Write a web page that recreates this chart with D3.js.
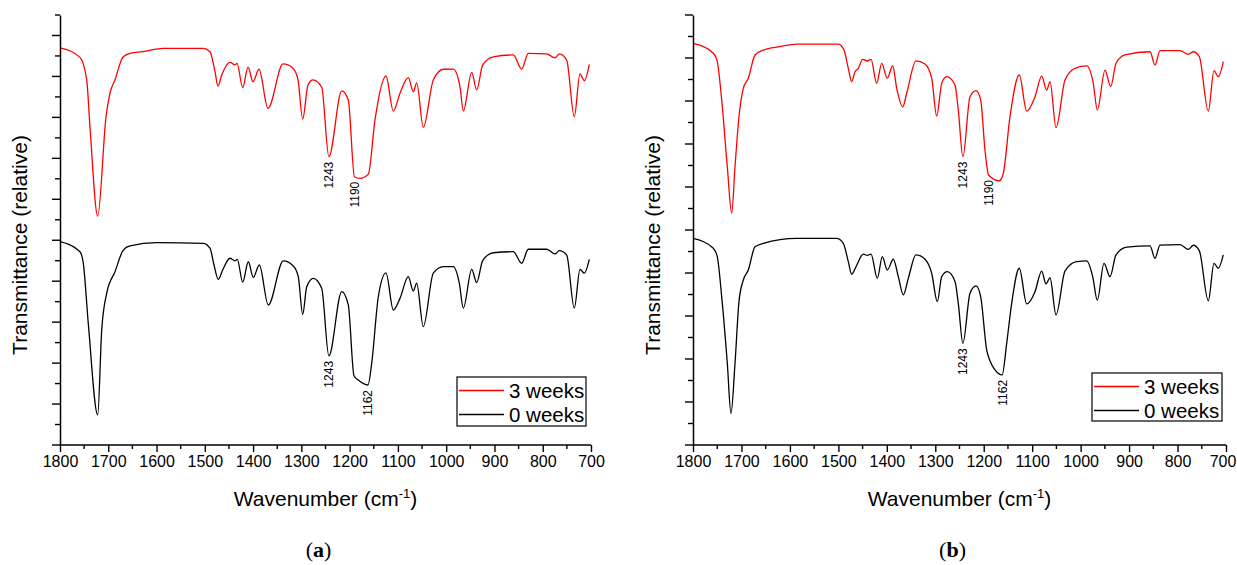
<!DOCTYPE html>
<html>
<head>
<meta charset="utf-8">
<script src="https://cdn.jsdelivr.net/npm/d3@7"></script>
<style>
  html, body { margin: 0; padding: 0; background: #fff; }
  svg { display: block; }
  text { font-family: "Liberation Sans", Arial, sans-serif; fill: #000; }
</style>
</head>
<body>
<svg id="chart" width="1237" height="565"></svg>
<script>
// FTIR spectra, wavenumber (cm-1) vs relative transmittance (arbitrary offset units)
const seriesNames = ["3 weeks", "0 weeks"];
const seriesColors = ["#ff0000", "#000000"];
const xTickValues = [1800, 1700, 1600, 1500, 1400, 1300, 1200, 1100, 1000, 900, 800, 700];
const panelLabels = ["a", "b"];

// Panel (a)
const a3weeks = [
  [1800,19.40],[1758.6,18.93],[1744.7,17.83],[1737.9,15.53],[1721.9,11.18],[1704.7,16.02],
  [1696.4,17.19],[1686.1,17.83],[1669.5,18.95],[1655,19.13],[1628.1,19.21],[1586.7,19.37],
  [1503.8,19.37],[1489.3,19.21],[1478.9,18.23],[1472.7,17.53],[1465,18.07],[1447.8,18.69],
  [1437.5,18.56],[1433.3,18.64],[1421.5,17.45],[1410.5,18.45],[1400.2,17.74],[1387.8,18.35],
  [1369.1,16.44],[1338,18.61],[1317.3,18.40],[1307,17.83],[1297.2,15.92],[1286.3,17.58],
  [1275.9,17.83],[1257.9,17.47],[1243,14.08],[1216.4,17.29],[1202.8,16.85],[1190,13.10],
  [1178.5,13.02],[1161.3,13.23],[1147.5,15.87],[1124.7,18.02],[1109.5,16.31],[1095.7,17.18],
  [1078.5,17.94],[1068.1,17.25],[1061.1,17.69],[1047.4,15.52],[1026.7,17.83],[1006,18.35],
  [985.3,18.36],[971.4,17.50],[964.5,16.31],[947.1,18.20],[936.8,17.34],[924.4,18.56],
  [902.4,18.96],[861,19.05],[843.6,18.36],[829.9,19.13],[791.8,19.10],[774.6,18.91],
  [765.7,19.10],[750.4,18.80],[734.6,16.03],[722.8,18.12],[713.9,17.79],[703.5,18.59]
];
const a0weeks = [
  [1800,9.93],[1758.6,9.44],[1751.7,8.87],[1741.4,5.94],[1721.9,1.47],[1713.6,5.62],
  [1703.3,7.41],[1686.1,8.46],[1668.9,9.52],[1655,9.72],[1599.7,9.88],[1503.1,9.85],
  [1489.3,9.61],[1481,8.79],[1472.1,8.09],[1463,8.55],[1447.8,9.12],[1437.5,8.99],
  [1432.7,9.07],[1421.5,7.95],[1409.9,8.95],[1399.6,8.19],[1387.1,8.79],[1368.5,6.84],
  [1337.4,8.99],[1316.7,8.74],[1306.4,8.22],[1297.2,6.38],[1288.9,7.73],[1275.3,8.14],
  [1257.9,7.65],[1243,4.35],[1216.4,7.49],[1202.8,6.84],[1191,3.38],[1182.1,3.17],
  [1162,2.93],[1154.3,3.99],[1140.6,7.24],[1124.7,8.41],[1109.5,6.59],[1095.7,7.16],
  [1078.5,8.22],[1068.1,7.52],[1061.1,7.90],[1047.4,5.78],[1026.7,8.39],[1006,8.71],
  [985.3,8.71],[972.8,7.90],[964.5,6.68],[947.1,8.58],[936.8,7.93],[924.4,9.00],
  [902.4,9.39],[861,9.44],[843.6,8.87],[829.9,9.56],[791.8,9.56],[774.6,9.33],
  [765.7,9.49],[750.4,9.28],[734.6,6.68],[722.8,8.58],[713.9,8.39],[703.5,9.07]
];
const aPeakLabels = [
  { series: 0, wn: 1243 }, { series: 0, wn: 1190 },
  { series: 1, wn: 1243 }, { series: 1, wn: 1162 }
];

// Panel (b)
const b3weeks = [
  [1800,18.68],[1758.1,18.22],[1749.9,17.83],[1740.8,16.05],[1729.2,12.94],[1720.1,10.78],
  [1713.3,12.94],[1705.1,15.27],[1696.2,16.59],[1685.9,17.06],[1672,18.14],[1654.9,18.37],
  [1620.4,18.53],[1586,18.65],[1500.1,18.65],[1488.4,18.37],[1479.5,17.52],[1472.5,16.90],
  [1465.7,17.36],[1458.9,17.52],[1449.8,17.94],[1440.3,17.86],[1432.6,17.94],[1420.9,16.82],
  [1410.6,17.75],[1399,17.06],[1387.9,17.64],[1379.6,16.59],[1367.2,15.73],[1359,16.36],
  [1339.8,17.87],[1321.2,17.72],[1307.4,17.06],[1297.1,15.30],[1286.7,16.82],[1276.4,17.13],
  [1259.3,16.74],[1252.5,15.58],[1243,13.41],[1228.3,16.20],[1215.9,16.48],[1206.3,16.05],
  [1197.4,13.72],[1190,12.56],[1167.9,12.29],[1159.6,12.64],[1145.8,15.27],[1126.6,17.21],
  [1111.3,15.53],[1094.2,16.20],[1080.4,17.16],[1070,16.51],[1063.2,16.90],[1050.8,14.76],
  [1032.3,16.98],[1011.6,17.52],[987.5,17.63],[973.9,16.82],[965.6,15.58],[949.7,17.44],
  [938,16.67],[927,17.75],[908.4,18.14],[856.8,18.29],[846.5,17.67],[836.2,18.34],
  [794.9,18.34],[777.8,18.17],[767.5,18.29],[755.1,18.06],[736.5,15.53],[724.8,17.41],
  [715.9,17.13],[705.6,17.83]
];
const b0weeks = [
  [1800,9.61],[1758.1,9.15],[1749.9,8.76],[1740.8,6.90],[1729.2,3.80],[1721.6,1.47],
  [1713.3,3.80],[1705.1,6.67],[1696.2,7.67],[1685.9,8.14],[1672,9.22],[1654.9,9.38],
  [1586,9.61],[1503.4,9.61],[1489.8,9.38],[1479.5,8.53],[1472.5,7.94],[1463.6,8.29],
  [1448.5,8.88],[1440.3,8.82],[1432.6,8.88],[1419.6,7.75],[1409.3,8.76],[1399,8.14],
  [1386.6,8.64],[1376.3,7.83],[1366,6.98],[1355.7,7.75],[1339.8,8.84],[1321.2,8.64],
  [1307.4,7.99],[1295.8,6.67],[1286.7,7.83],[1275.2,8.06],[1259.3,7.60],[1252.5,6.59],
  [1243,4.73],[1228.3,7.06],[1215.9,7.40],[1206.3,6.90],[1193.9,4.42],[1187,3.91],
  [1176.7,3.49],[1162,3.26],[1152.6,4.73],[1142.3,6.59],[1126.6,8.22],[1111.3,6.56],
  [1094.2,7.13],[1080.4,8.09],[1071.5,7.49],[1063.2,7.78],[1050.8,6.05],[1032.3,8.09],
  [1008.1,8.53],[987.5,8.56],[975.1,7.83],[965.6,6.74],[951.8,8.45],[939.4,7.83],
  [927,8.84],[904.9,9.20],[856.8,9.26],[846.5,8.68],[836.2,9.30],[794.9,9.32],
  [777.8,9.10],[767.5,9.29],[755.1,9.04],[736.5,6.70],[724.8,8.45],[715.9,8.22],
  [705.6,8.84]
];
const bPeakLabels = [
  { series: 0, wn: 1243 }, { series: 0, wn: 1190 },
  { series: 1, wn: 1243 }, { series: 1, wn: 1162 }
];

// Layout of the two panels
const panels = [
  { label: panelLabels[0], series: [a3weeks, a0weeks], peaks: aPeakLabels,
    x0: 60, x1: 591, yMax: 21, legend: { x: 457, y: 377, w: 129, h: 49 } },
  { label: panelLabels[1], series: [b3weeks, b0weeks], peaks: bPeakLabels,
    x0: 693, x1: 1226, yMax: 20, legend: { x: 1092, y: 373, w: 130, h: 48 } }
];
const plotTop = 15, plotBottom = 445;
const chartWidth = 1237;

const svg = d3.select("#chart");

panels.forEach(p => {
  const g = svg.append("g");
  const x = d3.scaleLinear().domain([1800, 700]).range([p.x0, p.x1]);
  const y = d3.scaleLinear().domain([0, p.yMax]).range([plotBottom, plotTop]);

  // spectra
  const line = d3.line()
    .x(d => x(d[0]))
    .y(d => y(d[1]))
    .curve(d3.curveMonotoneX);

  p.series.forEach((data, i) => {
    g.append("path")
      .datum(data)
      .attr("d", line)
      .attr("fill", "none")
      .attr("stroke", seriesColors[i])
      .attr("stroke-width", 1.3)
      .attr("stroke-linejoin", "round");
  });

  // x axis: labelled majors every 100, minors every 50
  const xAxis = d3.axisBottom(x).tickValues(xTickValues).tickSize(7).tickPadding(4)
    .tickFormat(d3.format("d"));
  const xg = g.append("g").attr("transform", `translate(0,${plotBottom})`).call(xAxis);
  const minorX = d3.range(750, 1800, 100);
  xg.selectAll(".minor").data(minorX).enter().append("line")
    .attr("class", "minor")
    .attr("x1", d => x(d)).attr("x2", d => x(d))
    .attr("y1", 0).attr("y2", 4)
    .attr("stroke", "#000").attr("stroke-width", 1.4);

  // y axis: unlabelled ticks, alternating long/short
  const yTicks = d3.range(0, p.yMax + 1);
  const yAxis = d3.axisLeft(y).tickValues(yTicks).tickFormat("")
    .tickSize(0).tickSizeOuter(0);
  const yg = g.append("g").attr("transform", `translate(${p.x0},0)`).call(yAxis);
  yg.selectAll(".yt").data(yTicks).enter().append("line")
    .attr("class", "yt")
    .attr("x1", 0).attr("x2", d => (d % 2 === 0 ? -8 : -5))
    .attr("y1", d => y(d)).attr("y2", d => y(d))
    .attr("stroke", "#000").attr("stroke-width", 1.4);

  [xg, yg].forEach(ax => {
    ax.select(".domain").attr("stroke", "#000").attr("stroke-width", 1.5);
    ax.selectAll(".tick line").attr("stroke", "#000").attr("stroke-width", 1.4);
    ax.selectAll(".tick text").attr("font-size", 16)
      .attr("font-family", '"Liberation Sans", Arial, sans-serif').attr("fill", "#000");
  });
  // keep the x axis line spanning the full plot width
  xg.select(".domain").attr("d", `M${p.x0},0H${p.x1}`);
  // pull an end label back inside the page if it would run past the right edge
  xg.selectAll(".tick text").each(function () {
    const bb = this.getBBox();
    const tx = x(d3.select(this.parentNode).datum());
    const over = tx + bb.x + bb.width - (chartWidth - 1);
    if (over > 0) d3.select(this).attr("dx", -over);
  });

  // peak position labels, vertical
  p.peaks.forEach(pk => {
    const data = p.series[pk.series];
    const pt = d3.least(data, d => Math.abs(d[0] - pk.wn));
    g.append("text")
      .attr("transform", `translate(${x(pk.wn) + 4.5},${y(pt[1]) + 5}) rotate(-90)`)
      .attr("text-anchor", "end")
      .attr("font-size", 12)
      .text(pk.wn);
  });

  // axis titles
  const xt = g.append("text")
    .attr("x", (p.x0 + p.x1) / 2)
    .attr("y", 506)
    .attr("text-anchor", "middle")
    .attr("font-size", 21);
  xt.append("tspan").text("Wavenumber (cm");
  xt.append("tspan").attr("font-size", 13).attr("dy", -8).text("-1");
  xt.append("tspan").attr("dy", 8).text(")");

  g.append("text")
    .attr("transform", `translate(${p.x0 - 33},${(plotTop + plotBottom) / 2 + 15}) rotate(-90)`)
    .attr("text-anchor", "middle")
    .attr("font-size", 21)
    .text("Transmittance (relative)");

  // legend
  const L = p.legend;
  const lg = g.append("g");
  lg.append("rect")
    .attr("x", L.x).attr("y", L.y).attr("width", L.w).attr("height", L.h)
    .attr("fill", "#fff").attr("stroke", "#000").attr("stroke-width", 1.2);
  seriesNames.forEach((name, i) => {
    const ly = L.y + 13.5 + i * 24;
    lg.append("line")
      .attr("x1", L.x + 2).attr("x2", L.x + 47)
      .attr("y1", ly).attr("y2", ly)
      .attr("stroke", seriesColors[i]).attr("stroke-width", 1.3);
    lg.append("text")
      .attr("x", L.x + 52).attr("y", ly + 7)
      .attr("font-size", 20.5)
      .text(name);
  });

  // panel caption: (a) / (b)
  const cap = svg.append("text")
    .attr("x", (p.x0 + p.x1) / 2 - 7)
    .attr("y", 557)
    .attr("text-anchor", "middle")
    .attr("font-size", 22)
    .style("font-family", '"Liberation Serif", "DejaVu Serif", serif');
  cap.append("tspan").text("(");
  cap.append("tspan").attr("font-weight", "bold").text(p.label);
  cap.append("tspan").text(")");
});
</script>
</body>
</html>
